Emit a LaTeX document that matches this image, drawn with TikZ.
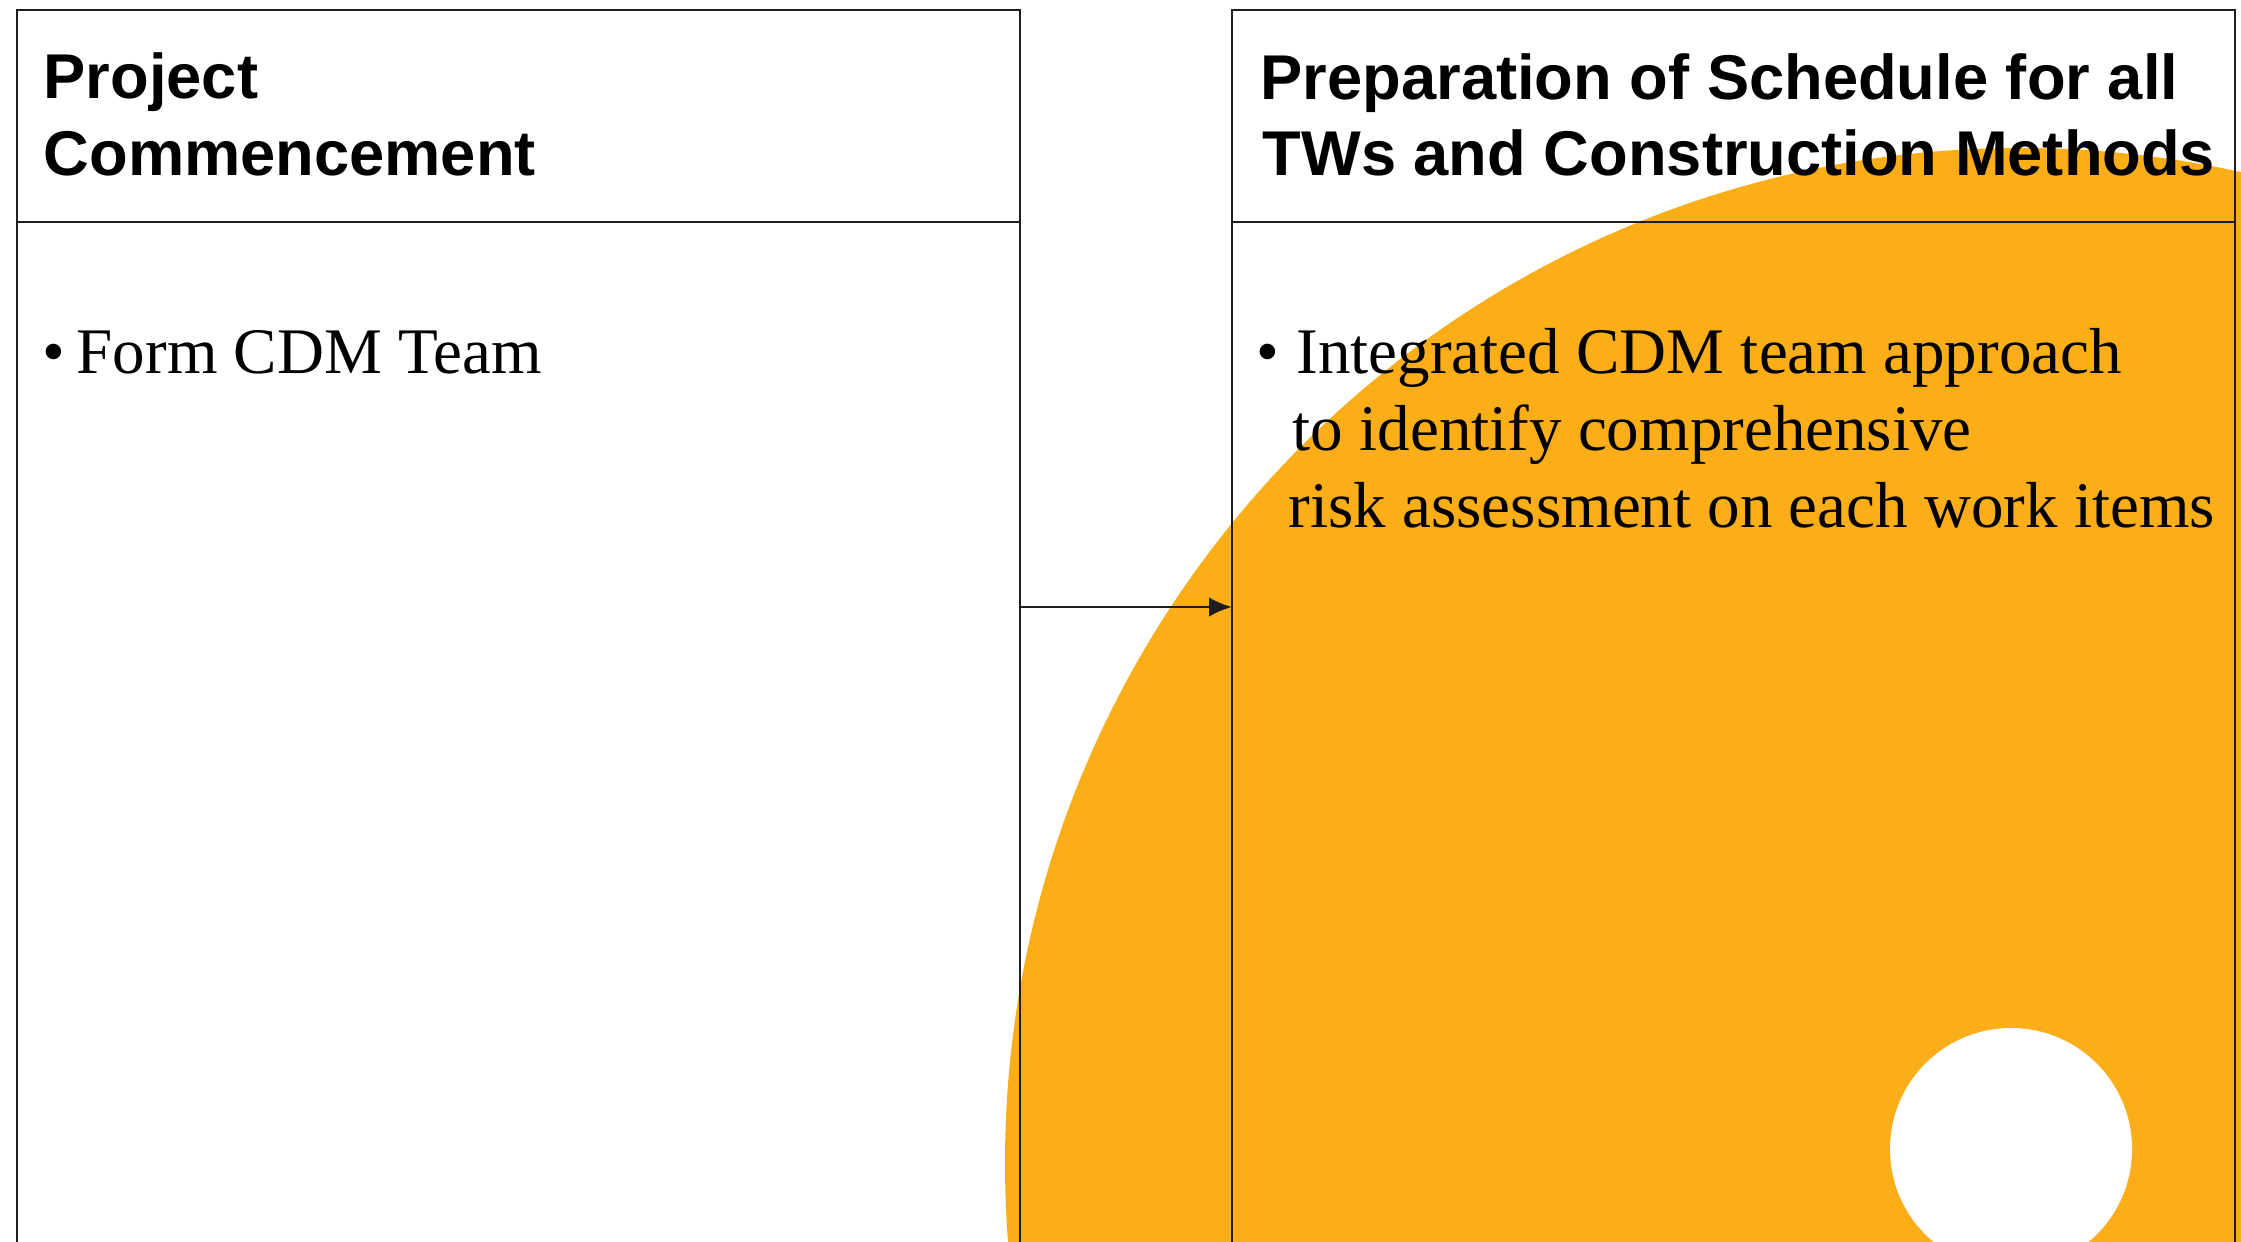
\documentclass[tikz,border=0pt]{standalone}
\usepackage{fontspec}
\setmainfont{Liberation Serif}
\newfontfamily\headfont{Liberation Sans}
\usetikzlibrary{arrows.meta}
\definecolor{sunorange}{RGB}{251,174,23}
\definecolor{frameline}{RGB}{30,30,30}
\begin{document}
\begin{tikzpicture}[x=1cm,y=1cm,
  panel/.style={draw=frameline, line width=0.7pt, anchor=north west,
    minimum width=10.03cm, inner sep=0pt, outer sep=0pt},
  headtxt/.style={anchor=base west, inner sep=0pt,
    font=\headfont\bfseries\fontsize{18}{22}\selectfont},
  bodytxt/.style={anchor=base west, inner sep=0pt,
    font=\fontsize{18.5}{22}\selectfont},
  flow/.style={draw=frameline, line width=0.7pt,
    -{Latex[length=6.5pt,width=5.5pt]}}
]
\useasboundingbox (0,0) rectangle (22.41,-12.41);
\fill[white] (0,0) rectangle (22.41,-12.41);

\begin{scope}
  \clip (0,0) rectangle (22.41,-12.41);
  % large orange disc and small white disc in the background
  \fill[sunorange] (20.20,-11.63) circle [radius=10.15];
  \fill[white] (20.11,-11.49) circle [radius=1.21];

  % left panel: header and body
  \node[panel, minimum height=2.12cm] (lhead) at (0.17,-0.10) {};
  \node[panel, minimum height=12cm] (lbody) at (lhead.south west) {};
  % right panel: header and body
  \node[panel, minimum height=2.12cm] (rhead) at (12.32,-0.10) {};
  \node[panel, minimum height=12cm] (rbody) at (rhead.south west) {};
\end{scope}

% header titles
\node[headtxt] (lt1) at (0.43,-0.98) {Project};
\node[headtxt] (lt2) at (0.43,-1.75) {Commencement};
\node[headtxt] (rt1) at (12.60,-0.99) {Preparation of Schedule for all};
\node[headtxt] (rt2) at (12.62,-1.75) {TWs and Construction Methods};

% body bullets
\node[bodytxt] (lb0) at (0.42,-3.73) {•};
\node[bodytxt] (lb1) at (0.76,-3.73) {Form CDM Team};
\node[bodytxt] (rb0) at (12.56,-3.73) {•};
\node[bodytxt] (rb1) at (12.96,-3.73) {Integrated CDM team approach};
\node[bodytxt] (rb2) at (12.92,-4.50) {to identify comprehensive};
\node[bodytxt] (rb3) at (12.88,-5.27) {risk assessment on each work items};

% connector between the panels
\coordinate (tail) at (10.20,-6.07);
\draw[flow] (tail) -- (tail -| rbody.west);
\end{tikzpicture}
\end{document}
